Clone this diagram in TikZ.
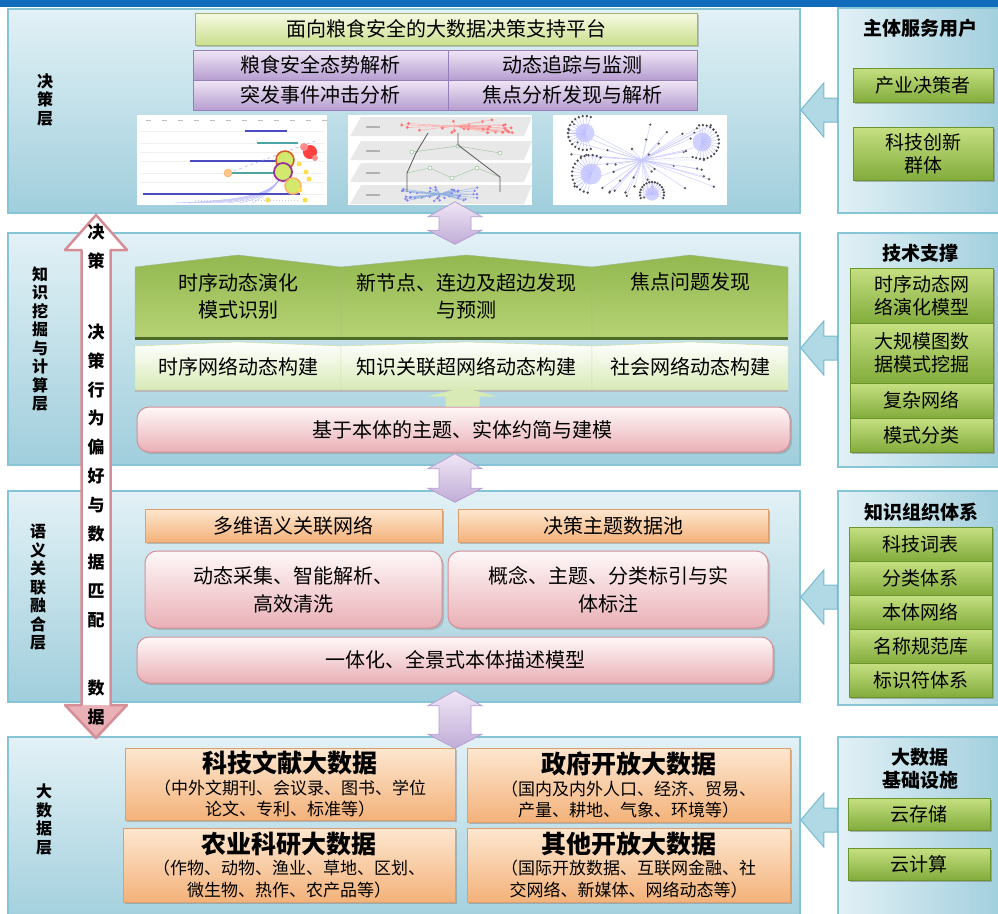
\documentclass[tikz,border=0pt]{standalone}
\usepackage{fontspec}
\setmainfont{Noto Sans CJK SC}
\usetikzlibrary{calc,shadows}

\definecolor{barblue}{RGB}{18,108,188}
\definecolor{panelhi}{RGB}{226,241,246}
\definecolor{panello}{RGB}{160,206,220}
\definecolor{panelrule}{RGB}{134,196,214}
\definecolor{feedfill}{RGB}{176,216,229}
\definecolor{feedrule}{RGB}{118,186,206}
\definecolor{leafhi}{RGB}{198,224,130}
\definecolor{leaflo}{RGB}{130,172,60}
\definecolor{leafrule}{RGB}{108,148,46}
\definecolor{mosshi}{RGB}{146,184,80}
\definecolor{mosslo}{RGB}{182,210,116}
\definecolor{mossrule}{RGB}{78,108,38}
\definecolor{sproutlo}{RGB}{216,234,182}
\definecolor{creamhi}{RGB}{247,250,228}
\definecolor{creamlo}{RGB}{202,223,142}
\definecolor{lilachi}{RGB}{239,230,245}
\definecolor{lilaclo}{RGB}{182,158,208}
\definecolor{lilacrule}{RGB}{152,126,184}
\definecolor{rosehi}{RGB}{254,248,248}
\definecolor{roselo}{RGB}{233,176,182}
\definecolor{roserule}{RGB}{214,142,150}
\definecolor{peachhi}{RGB}{253,231,208}
\definecolor{peachlo}{RGB}{243,178,122}

% block arrow from a side panel into its layer, at height #3
\newcommand\feed[3]{%
  \draw[feed] let \p1=(#2.east), \p2=(#1.west), \p3=(0,#3) in
    (\x1,\y3) -- (\x1+23pt,\y3+27pt) -- (\x1+23pt,\y3+12pt) -- (\x2,\y3+12pt)
    -- (\x2,\y3-12pt) -- (\x1+23pt,\y3-12pt) -- (\x1+23pt,\y3-27pt) -- cycle;}

% two-way arrow between two stacked layers
\newcommand\layerlink[2]{%
  \draw[link] let \p1=(#1.south), \p2=(#2.north) in
    (455pt,\y1+12pt) -- (482pt,\y1-3pt) -- (471pt,\y1-3pt) -- (471pt,\y2+2pt)
    -- (482pt,\y2+2pt) -- (455pt,\y2-12pt) -- (428pt,\y2+2pt) -- (439pt,\y2+2pt)
    -- (439pt,\y1-3pt) -- (428pt,\y1-3pt) -- cycle;}

\tikzset{
  every node/.style={inner sep=0pt, font=\fontsize{20}{26}\selectfont},
  layer/.style={draw=panelrule, line width=1.5pt, top color=panelhi, bottom color=panello},
  side/.style={draw=panelrule, line width=1.5pt, left color=panelhi, right color=panello},
  tag/.style={align=center, font=\fontsize{16}{18.5}\selectfont\bfseries},
  head/.style={align=center, font=\fontsize{19}{23}\selectfont\bfseries},
  leaf/.style={draw=leafrule, top color=leafhi, bottom color=leaflo, align=center,
    font=\fontsize{19}{23}\selectfont,
    drop shadow={shadow xshift=2pt, shadow yshift=-2pt, opacity=.55}},
  lilac/.style={draw=lilacrule, top color=lilachi, bottom color=lilaclo},
  cream/.style={draw=creamlo!80!black, top color=creamhi, bottom color=creamlo,
    drop shadow={shadow xshift=2pt, shadow yshift=-2pt, opacity=.4}},
  house/.style={draw=mossrule!50, top color=mosshi, bottom color=mosslo},
  sprout/.style={draw=creamlo, top color=white, bottom color=sproutlo},
  rose/.style={draw=roserule, line width=1pt, rounded corners=12pt, top color=rosehi,
    bottom color=roselo, align=center,
    drop shadow={shadow xshift=2pt, shadow yshift=-2pt, opacity=.35}},
  peach/.style={draw=peachlo!90!black, top color=peachhi, bottom color=peachlo, align=center,
    drop shadow={shadow xshift=2pt, shadow yshift=-2pt, opacity=.45}},
  src/.style={peach, font=\fontsize{17}{21.5}\selectfont},
  feed/.style={draw=feedrule, line width=1pt, fill=feedfill},
  link/.style={draw=lilaclo, line width=.8pt, top color=lilachi, bottom color=lilaclo!85},
  vlabel/.style={align=center, font=\fontsize{17}{29}\selectfont\bfseries},
}

\begin{document}
\begin{tikzpicture}[x=1pt,y=-1pt]
\useasboundingbox (0,0) rectangle (998,913);
\fill[barblue] (0,0) rectangle (998,7);

% the four layers and their side panels
\node[layer, minimum width=792, minimum height=204] (decide) at (404,111) {};
\node[layer, minimum width=792, minimum height=232] (mine) at (404,349) {};
\node[layer, minimum width=792, minimum height=211] (fuse) at (404,596.5) {};
\node[layer, minimum width=792, minimum height=190] (data) at (404,832) {};
\node[side, minimum width=167, minimum height=205] (users) at (921.5,110.5) {};
\node[side, minimum width=167, minimum height=234] (tech) at (921.5,350) {};
\node[side, minimum width=167, minimum height=214] (kos) at (921.5,598) {};
\node[side, minimum width=167, minimum height=190] (infra) at (921.5,832) {};

\node[tag] (decidetag) at (45,100) {决\\策\\层};
\node[tag] (minetag) at (40,339) {知\\识\\挖\\掘\\与\\计\\算\\层};
\node[tag] (fusetag) at (38,587.5) {语\\义\\关\\联\\融\\合\\层};
\node[tag] (datatag) at (44,819.5) {大\\数\\据\\层};

% decision layer
\node[cream, minimum width=502, minimum height=32] (platform) at (446,29) {面向粮食安全的大数据决策支持平台};
\node[lilac, minimum width=255, minimum height=30] (trend) at (320.5,65) {粮食安全态势解析};
\node[lilac, minimum width=249, minimum height=30] (track) at (572.5,65) {动态追踪与监测};
\node[lilac, minimum width=255, minimum height=30] (shock) at (320.5,95) {突发事件冲击分析};
\node[lilac, minimum width=249, minimum height=30] (focus) at (572.5,95) {焦点分析发现与解析};

% bubble timeline
\fill[white] (137,115) rectangle (327,205);
\foreach \x in {146,162,...,322} \draw[gray!50, line width=1pt] (\x,120) -- ++(5,0);
\foreach \y in {131,143,152,161,173,182,194} \draw[gray!12] (140,\y) -- (325,\y);
\foreach \k in {0,...,6}
  \draw[blue!30, thin] (175+13*\k,203) .. controls (255,200) and (276,192) .. (283,172);
\draw[blue!65!black!70, line width=1.2pt] (245,131) -- (287,131) (190,161) -- (280,161) (143,194) -- (300,194);
\draw[teal!70, line width=1.2pt] (257,143) -- (298,143) (228,173) -- (280,173);
\draw[blue!40, dashed, thin] (228,173) -- (318,140);
\filldraw[fill=orange!45, draw=orange!70] (228,173) circle (4);
\filldraw[fill=yellow!70!green!60, draw=orange!70!violet, line width=1.5pt] (285,160) circle (9);
\filldraw[fill=yellow!70!green!60, draw=violet!80, line width=1.8pt] (283,172) circle (9);
\filldraw[fill=yellow!70!green!60, draw=orange!60, line width=1.5pt] (293,186) circle (8);
\fill[red!75] (310,152) circle (7);
\fill[red!45] (304,147) circle (4) (315,158) circle (3);
\foreach \p in {(299,164),(306,172),(309,179),(300,190),(268,200),(305,200)}
  \fill[yellow!70!orange!70] \p circle (2.5);
\draw[gray!40, dotted, line width=1pt] (195,200) -- (300,200);

% layered subnetworks
\fill[white] (348,115) rectangle (532,205);
\foreach \t in {117,141,163,185} {
  \fill[gray!18] (350,\t+19) -- (361,\t) -- (532,\t) -- (524,\t+19) -- cycle;
  \fill[gray!60] (366,\t+9) rectangle ++(14,2);
}
\pgfmathsetseed{3}
\foreach \i in {1,...,28} {
  \pgfmathsetmacro\px{398+118*rnd} \pgfmathsetmacro\py{119+14*rnd}
  \draw[red!35] (455,126) -- (\px,\py);
  \fill[red!55] (\px,\py) circle (1.6);
}
\draw[green!45!black!45] (412,152) -- (458,146) -- (500,153);
\draw[green!45!black!40] (407,173) -- (430,168) -- (452,178) -- (477,168) -- (500,177);
\foreach \p in {(412,152),(458,146),(500,153),(430,168),(452,178),(477,168)}
  \draw[green!40!black!50, fill=white] \p circle (2);
\foreach \i in {1,...,40} {
  \pgfmathsetmacro\px{402+82*rnd} \pgfmathsetmacro\py{187+14*rnd}
  \draw[cyan!50!blue!45] (440,194) -- (\px,\py);
  \fill[blue!50] (\px,\py) circle (1.3);
}
\draw[gray!70!black, line width=.8pt] (428,133) -- (416,153) -- (407,173) -- (407,192)
  (458,133) -- (458,145) -- (500,177) -- (500,192);

% co-occurrence graph
\fill[white] (553,115) rectangle (727,205);
\foreach \i in {1,...,50} {
  \pgfmathsetmacro\px{565+150*rnd} \pgfmathsetmacro\py{121+78*rnd}
  \draw[blue!22] (642,160) -- (\px,\py);
  \fill[black!65] (\px,\py) circle (1.3);
}
\foreach \cx/\cy/\r/\a/\b in {585/133/17/70/290, 702/142/17/-100/110, 591/174/19/100/300, 652/194/12/160/380} {
  \fill[blue!18] (\cx,\cy) circle (\r*0.55);
  \foreach \t in {0,...,16} {
    \pgfmathsetmacro\ang{\a+(\b-\a)*\t/16}
    \draw[blue!25] (\cx,\cy) -- ++(\ang:\r);
    \fill[black!70] (\cx,\cy) ++(\ang:\r) circle (1.3);
  }
}

\node[head] (userstitle) at (920,28) {主体服务用户};
\node[leaf, minimum width=140, minimum height=34] (industry) at (923,85) {产业决策者};
\node[leaf, minimum width=140, minimum height=53] (innov) at (923,153.5) {科技创新\\群体};

% mining layer
\foreach \a/\b in {135/341,341/592,592/788}
  \draw[house] (\a,337) -- (\a,267) -- ({(\a+\b)/2},255) -- (\b,267) -- (\b,337) -- cycle;
\draw[mossrule, line width=2.5pt] (135,338.5) -- (788,338.5);
\node[align=center, font=\fontsize{20}{27}\selectfont] (pattern) at (238,296.5) {时序动态演化\\模式识别};
\node[align=center, font=\fontsize{20}{27}\selectfont] (predict) at (466,296.5) {新节点、连边及超边发现\\与预测};
\node (hotspot) at (690,282) {焦点问题发现};
\foreach \a/\b in {135/341,341/592,592/788}
  \draw[sprout] (\a,390) -- (\a,346) -- ({(\a+\b)/2},342) -- (\b,346) -- (\b,390) -- cycle;
\draw[gray!55, line width=2pt] (135,391) -- (788,391);
\node (seqnet) at (238,367) {时序网络动态构建};
\node (hypernet) at (466,367) {知识关联超网络动态构建};
\node (socnet) at (690,367) {社会网络动态构建};
\node[rose, minimum width=653, minimum height=45] (ontomodel) at (463.5,429.5) {};
\fill[sproutlo] ([xshift=-1pt]ontomodel.north) ++(-17,0) -- ++(0,-10) -- ++(-18,0)
  -- ++(35,-9) -- ++(35,9) -- ++(-18,0) -- ++(0,10) -- cycle;
\node (ontotext) at (462,429.5) {基于本体的主题、实体约简与建模};

\node[head] (techtitle) at (920,253) {技术支撑};
\node[leaf, minimum width=143, minimum height=55] (evomodel) at (921.5,295.5) {时序动态网\\络演化模型};
\node[leaf, minimum width=143, minimum height=60] (graphmine) at (921.5,353) {大规模图数\\据模式挖掘};
\node[leaf, minimum width=143, minimum height=35] (complex) at (921.5,400.5) {复杂网络};
\node[leaf, minimum width=143, minimum height=34] (classify) at (921.5,435) {模式分类};

% semantic fusion layer
\node[peach, minimum width=297, minimum height=33] (semnet) at (293.5,525.5) {多维语义关联网络};
\node[peach, minimum width=310, minimum height=33] (pool) at (613,525.5) {决策主题数据池};
\node[rose, minimum width=297, minimum height=77, font=\fontsize{20}{28}\selectfont] (collect) at (293.5,589.5) {动态采集、智能解析、\\高效清洗};
\node[rose, minimum width=320, minimum height=77, font=\fontsize{20}{28}\selectfont] (index) at (608,589.5) {概念、主题、分类标引与实\\体标注};
\node[rose, minimum width=636, minimum height=46] (panorama) at (455,660) {一体化、全景式本体描述模型};

\node[head] (kostitle) at (921,512) {知识组织体系};
\foreach \n/\t [count=\i from 0] in {thesaurus/科技词表, scheme/分类体系, ontology/本体网络, authority/名称规范库, ident/标识符体系}
  \node[leaf, minimum width=143, minimum height=34] (\n) at (920.5,544+34*\i) {\t};

% big data layer
\node[src, minimum width=330, minimum height=72] (litdata) at (290,784)
  {{\fontsize{25}{28}\selectfont\bfseries 科技文献大数据}\\（中外文期刊、会议录、图书、学位\\论文、专利、标准等）};
\node[src, minimum width=332, minimum height=74] (agridata) at (289,865)
  {{\fontsize{25}{28}\selectfont\bfseries 农业科研大数据}\\（作物、动物、渔业、草地、区划、\\微生物、热作、农产品等）};
\node[src, minimum width=323, minimum height=74] (govdata) at (628.5,785)
  {{\fontsize{25}{28}\selectfont\bfseries 政府开放大数据}\\（国内及内外人口、经济、贸易、\\产量、耕地、气象、环境等）};
\node[src, minimum width=323, minimum height=74] (opendata) at (628.5,865)
  {{\fontsize{25}{28}\selectfont\bfseries 其他开放大数据}\\（国际开放数据、互联网金融、社\\交网络、新媒体、网络动态等）};

\node[head] (infratitle) at (920,769) {大数据\\基础设施};
\node[leaf, minimum width=142, minimum height=32] (storage) at (919,814) {云存储};
\node[leaf, minimum width=142, minimum height=32] (compute) at (919,864) {云计算};

% connectors
\feed{users}{decide}{110}
\feed{tech}{mine}{348}
\feed{kos}{fuse}{597}
\feed{infra}{data}{820}
\layerlink{decide}{mine}
\layerlink{mine}{fuse}
\layerlink{fuse}{data}

% decision preference <-> data matching
\fill[roselo] (96,738) -- (127,705) -- (65,705) -- cycle;
\fill[white] (96,215) -- (127,250) -- (110.5,250) -- (110.5,705) -- (81.5,705) -- (81.5,250) -- (65,250) -- cycle;
\draw[roserule, line width=2.5pt, line join=round] (96,215) -- (127,250) -- (110.5,250) -- (110.5,705)
  -- (127,705) -- (96,738) -- (65,705) -- (81.5,705) -- (81.5,250) -- (65,250) -- cycle;
\node[vlabel] (dtop) at (96,247) {决\\策};
\node[vlabel, font=\fontsize{17}{28.8}\selectfont\bfseries] (dmid) at (96,476) {决\\策\\行\\为\\偏\\好\\与\\数\\据\\匹\\配};
\node[vlabel] (dbot) at (96,702.5) {数\\据};
\end{tikzpicture}
\end{document}
